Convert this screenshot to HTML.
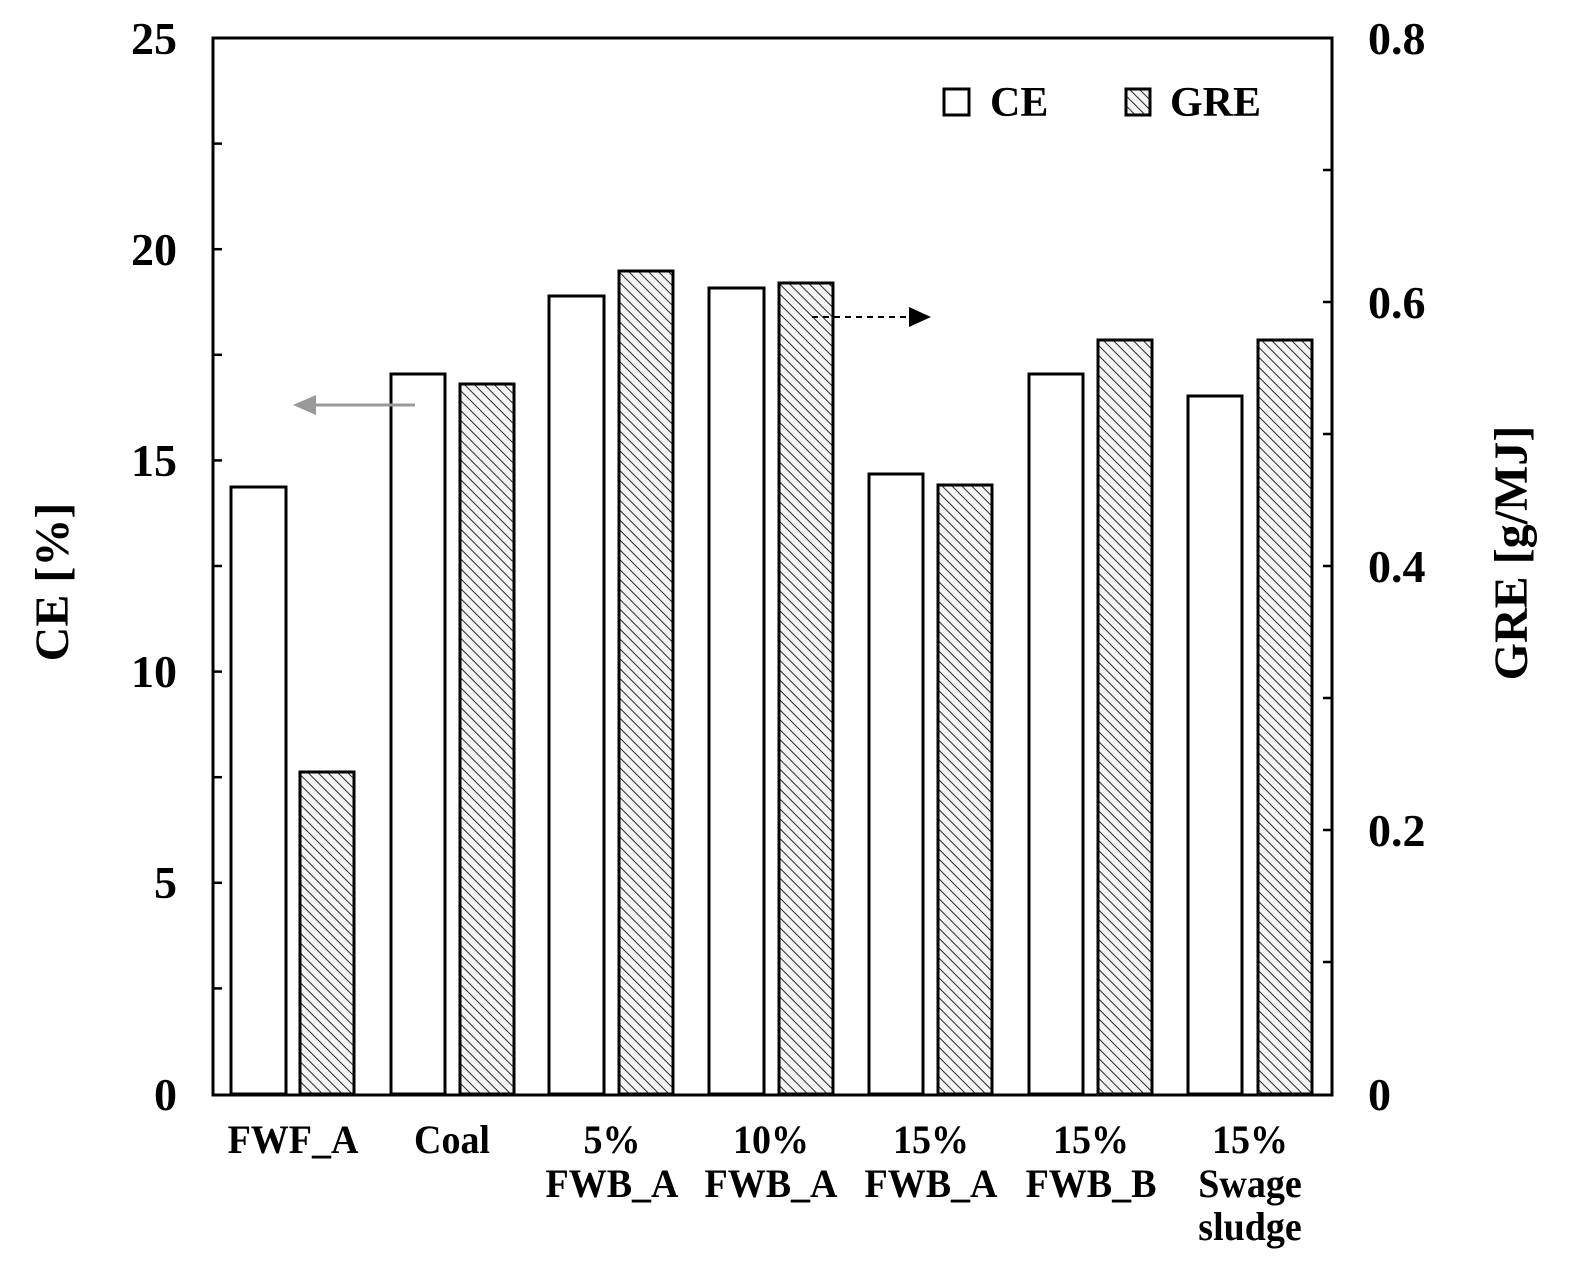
<!DOCTYPE html>
<html><head><meta charset="utf-8"><style>html,body{margin:0;padding:0;background:#fff}svg{display:block}</style></head>
<body>
<svg width="1570" height="1283" viewBox="0 0 1570 1283" xmlns="http://www.w3.org/2000/svg" font-family="'Liberation Serif', serif" font-weight="bold">
<defs>
<pattern id="h" patternUnits="userSpaceOnUse" width="7" height="7" patternTransform="rotate(-45)">
<rect width="7" height="7" fill="#f4f4f4"/>
<line x1="0" y1="0" x2="0" y2="7" stroke="#2a2a2a" stroke-width="2"/>
</pattern>
</defs>
<g stroke="#000" stroke-width="3">
<rect x="231" y="487" width="55" height="607" fill="#fff"/>
<rect x="300" y="772" width="54" height="322" fill="url(#h)"/>
<rect x="391" y="374" width="54" height="720" fill="#fff"/>
<rect x="460" y="384" width="54" height="710" fill="url(#h)"/>
<rect x="549" y="296" width="55" height="798" fill="#fff"/>
<rect x="619" y="271" width="54" height="823" fill="url(#h)"/>
<rect x="709" y="288" width="55" height="806" fill="#fff"/>
<rect x="779" y="283" width="54" height="811" fill="url(#h)"/>
<rect x="869" y="474" width="54" height="620" fill="#fff"/>
<rect x="938" y="485" width="54" height="609" fill="url(#h)"/>
<rect x="1029" y="374" width="54" height="720" fill="#fff"/>
<rect x="1098" y="340" width="54" height="754" fill="url(#h)"/>
<rect x="1188" y="396" width="54" height="698" fill="#fff"/>
<rect x="1258" y="340" width="54" height="754" fill="url(#h)"/>
</g>
<rect x="213" y="38" width="1119" height="1057" fill="none" stroke="#000" stroke-width="3"/>
<g stroke="#000" stroke-width="2.5">
<line x1="213" y1="143.6" x2="222" y2="143.6"/><line x1="213" y1="249.2" x2="222" y2="249.2"/>
<line x1="213" y1="354.8" x2="222" y2="354.8"/><line x1="213" y1="460.4" x2="222" y2="460.4"/>
<line x1="213" y1="566" x2="222" y2="566"/><line x1="213" y1="671.6" x2="222" y2="671.6"/>
<line x1="213" y1="777.2" x2="222" y2="777.2"/><line x1="213" y1="882.8" x2="222" y2="882.8"/>
<line x1="213" y1="988.4" x2="222" y2="988.4"/>
<line x1="1323" y1="170" x2="1332" y2="170"/><line x1="1323" y1="302" x2="1332" y2="302"/>
<line x1="1323" y1="434" x2="1332" y2="434"/><line x1="1323" y1="566" x2="1332" y2="566"/>
<line x1="1323" y1="698" x2="1332" y2="698"/><line x1="1323" y1="830" x2="1332" y2="830"/>
<line x1="1323" y1="962" x2="1332" y2="962"/>
</g>
<line x1="415" y1="405" x2="310" y2="405" stroke="#999" stroke-width="3"/>
<polygon points="293,405 316,395 316,415" fill="#999"/>
<line x1="812" y1="317" x2="912" y2="317" stroke="#000" stroke-width="2" stroke-dasharray="6,5"/>
<polygon points="931,317 909,307 909,327" fill="#000"/>
<rect x="944" y="89" width="25" height="26" fill="#fff" stroke="#000" stroke-width="3"/>
<rect x="1126" y="89" width="24" height="26" fill="url(#h)" stroke="#000" stroke-width="3"/>
<text x="990" y="116" font-size="42">CE</text>
<text x="1170" y="116" font-size="42">GRE</text>
<g font-size="46" text-anchor="end">
<text x="177" y="54">25</text><text x="177" y="265">20</text><text x="177" y="476">15</text>
<text x="177" y="687">10</text><text x="177" y="898">5</text><text x="177" y="1110">0</text>
</g>
<g font-size="46" text-anchor="start">
<text x="1368" y="54">0.8</text><text x="1368" y="318">0.6</text><text x="1368" y="582">0.4</text>
<text x="1368" y="846">0.2</text><text x="1368" y="1110">0</text>
</g>
<text transform="translate(68,582) rotate(-90)" font-size="48" text-anchor="middle">CE [%]</text>
<text transform="translate(1527,553) rotate(-90)" font-size="48" text-anchor="middle">GRE [g/MJ]</text>
<g font-size="40" text-anchor="middle">
<text transform="translate(293,1153) scale(0.95,1)">FWF_A</text>
<text transform="translate(452,1153) scale(0.95,1)">Coal</text>
<text transform="translate(612,1153) scale(0.95,1)">5%</text>
<text transform="translate(612,1197) scale(0.95,1)">FWB_A</text>
<text transform="translate(771,1153) scale(0.95,1)">10%</text>
<text transform="translate(771,1197) scale(0.95,1)">FWB_A</text>
<text transform="translate(931,1153) scale(0.95,1)">15%</text>
<text transform="translate(931,1197) scale(0.95,1)">FWB_A</text>
<text transform="translate(1091,1153) scale(0.95,1)">15%</text>
<text transform="translate(1091,1197) scale(0.95,1)">FWB_B</text>
<text transform="translate(1250,1153) scale(0.95,1)">15%</text>
<text transform="translate(1250,1197) scale(0.95,1)">Swage</text>
<text transform="translate(1250,1240) scale(0.95,1)">sludge</text>
</g>
</svg>
</body></html>
